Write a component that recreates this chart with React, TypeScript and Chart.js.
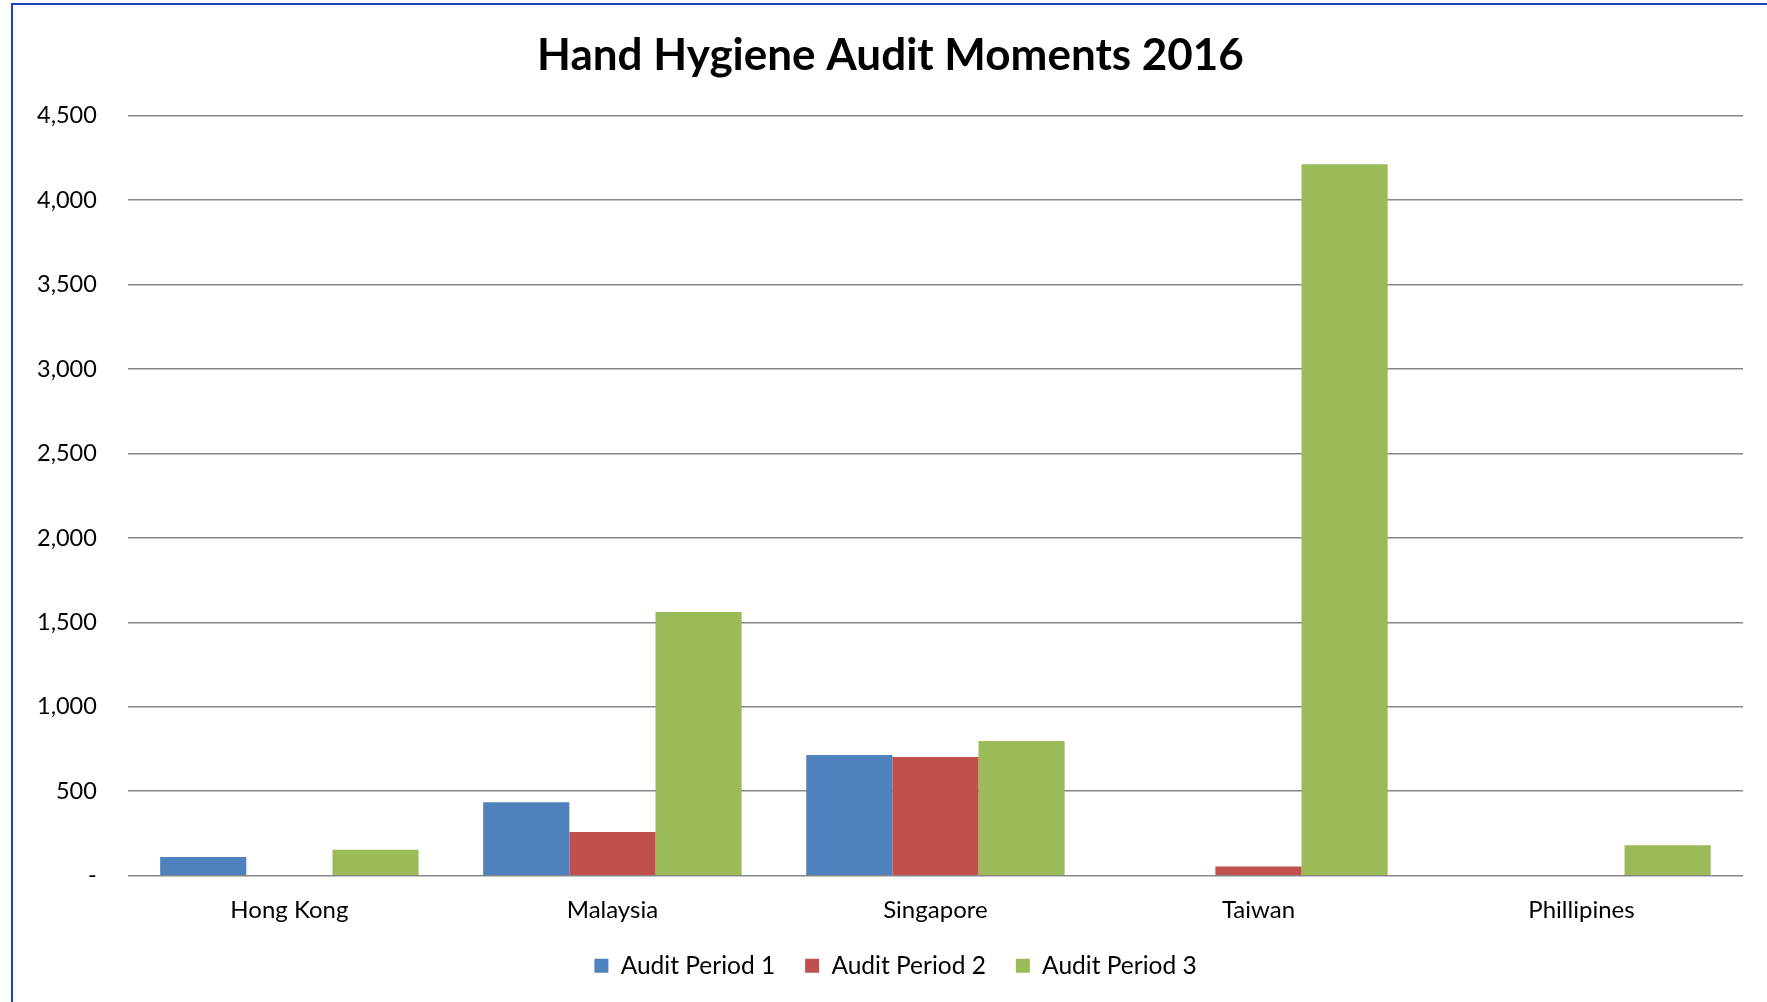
import React, { useEffect, useRef } from "react";
import { Chart, registerables } from "chart.js";

Chart.register(...registerables);

const categories = ["Hong Kong", "Malaysia", "Singapore", "Taiwan", "Phillipines"];
const period1 = [110, 435, 715, 0, 0];
const period2 = [0, 259, 703, 55, 0];
const period3 = [153, 1561, 798, 4213, 180];
const seriesNames = ["Audit Period 1", "Audit Period 2", "Audit Period 3"];
const seriesColors = ["#4F81BD", "#C0504D", "#9BBB59"];
const titleText = "Hand Hygiene Audit Moments 2016";
const yMax = 4500;
const yStep = 500;

const shiftPlugin = {
  id: "shiftBlocks",
  afterLayout(chart: any) {
    if (chart.titleBlock) {
      chart.titleBlock.left += 32;
    }
    if (chart.legend) {
      chart.legend.left += 42;
    }
  },
};

export default function App() {
  const ref = useRef<HTMLCanvasElement | null>(null);
  useEffect(() => {
    if (!ref.current) return;
    const font = "Lato, 'Open Sans', sans-serif";
    const chart = new Chart(ref.current, {
      type: "bar",
      data: {
        labels: categories,
        datasets: [period1, period2, period3].map((d, i) => ({
          label: seriesNames[i],
          data: d,
          backgroundColor: seriesColors[i],
          borderWidth: 0,
          categoryPercentage: 0.8,
          barPercentage: 1.0,
        })),
      },
      plugins: [shiftPlugin],
      options: {
        animation: false,
        responsive: false,
        maintainAspectRatio: false,
        layout: { padding: { left: 6, right: 24, top: 29, bottom: 14 } },
        plugins: {
          title: {
            display: true,
            text: titleText,
            color: "#000",
            font: { family: font, size: 44, weight: "bold" },
            padding: { top: 0, bottom: 34 },
          },
          legend: {
            position: "bottom",
            labels: {
              color: "#000",
              font: { family: font, size: 24.5 },
              boxWidth: 14,
              boxHeight: 14,
              padding: 30,
            },
          },
          tooltip: { enabled: false },
        },
        scales: {
          x: {
            grid: { display: false, drawTicks: false },
            border: { display: false },
            ticks: {
              color: "#000",
              font: { family: font, size: 24 },
              padding: 20,
              maxRotation: 0,
            },
            afterFit: (scale: any) => {
              scale.height -= 21;
            },
          },
          y: {
            min: 0,
            max: yMax,
            grid: { color: "#878787", lineWidth: 1.6, drawTicks: false },
            border: { display: false },
            ticks: {
              stepSize: yStep,
              color: "#000",
              font: { family: font, size: 23.5 },
              padding: 31,
              callback: (v: any) => (Number(v) === 0 ? "-" : Number(v).toLocaleString("en-US")),
            },
          },
        },
      },
    });
    return () => chart.destroy();
  }, []);
  return (
    <div style={{ position: "fixed", left: 0, top: 0, width: 1767, height: 1002, overflow: "hidden", background: "#fff" }}>
      <div
        style={{
          position: "absolute",
          left: 11,
          top: 3,
          width: 1800,
          height: 1100,
          borderLeft: "2px solid #1c44b8",
          borderTop: "2px solid #1c44b8",
        }}
      />
      <canvas ref={ref} width={1767} height={1002} style={{ position: "absolute", left: 0, top: 0 }} />
    </div>
  );
}
